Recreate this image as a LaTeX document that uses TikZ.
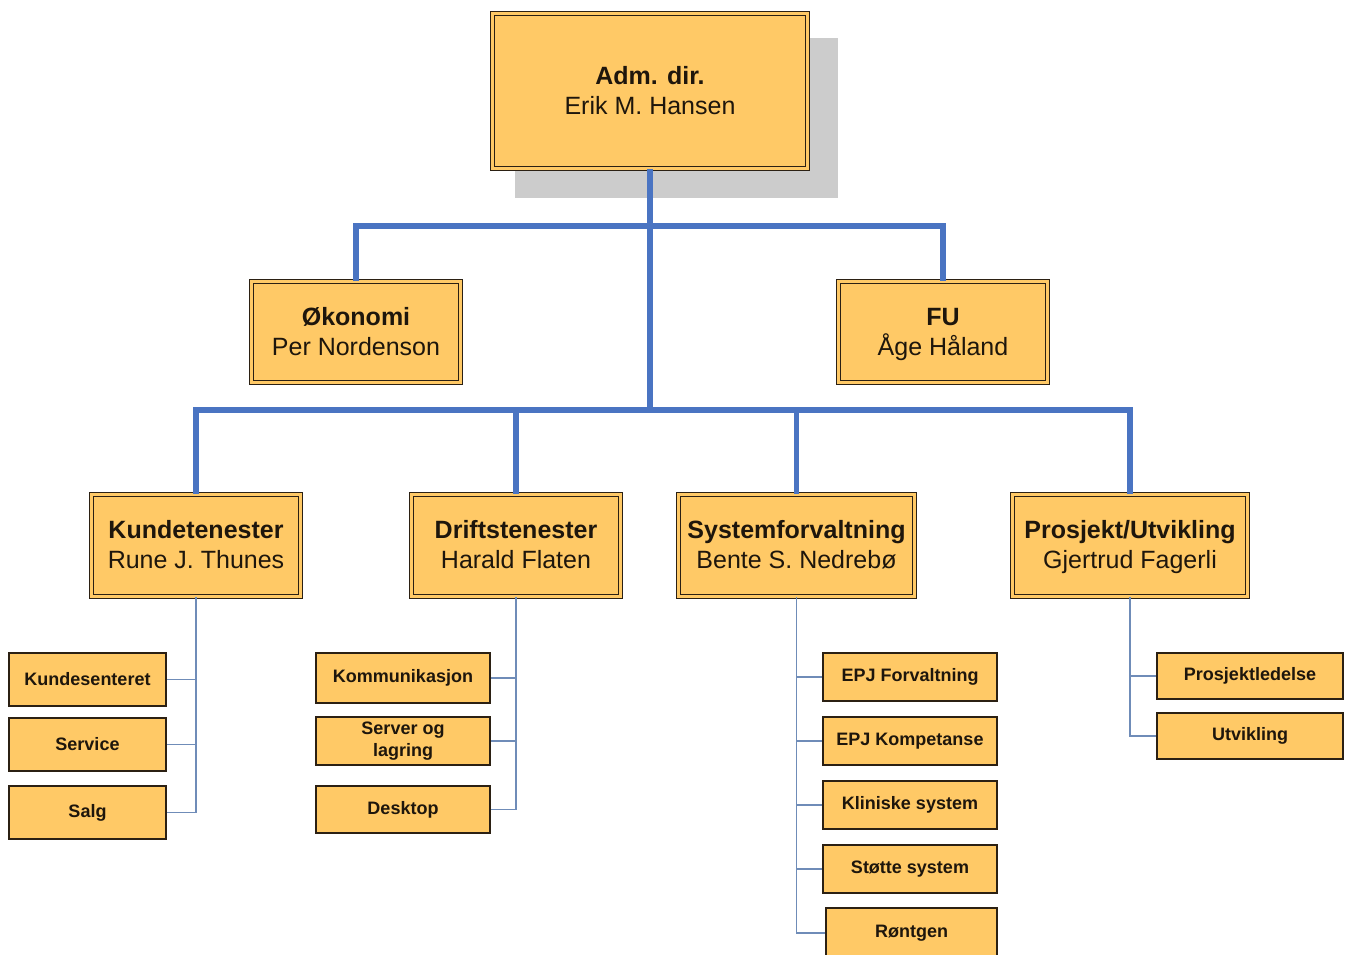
\documentclass[tikz,border=0pt]{standalone}
\usepackage{fontspec}
\setmainfont{Liberation Sans}
\definecolor{boxfill}{HTML}{FFC966}
\definecolor{boxline}{HTML}{2B2013}
\definecolor{thickblue}{HTML}{4A74C2}
\definecolor{thinblue}{HTML}{6F8CB8}
\definecolor{shadowgray}{HTML}{CCCCCC}
\definecolor{txt}{HTML}{1E160C}
\newcommand\lnfix{\vphantom{Åg}}
\tikzset{
  bigbox/.style={draw=boxline, line width=0.8pt, double=boxfill, double distance=2.4pt,
    fill=boxfill, inner sep=0pt, align=center, text=txt,
    font=\fontsize{18.75}{22.5}\selectfont},
  smallbox/.style={draw=boxline, line width=1pt, fill=boxfill, inner sep=0pt,
    align=center, text=txt, font=\fontsize{13.5}{17}\selectfont\bfseries},
  thickline/.style={draw=thickblue, line width=3.8pt},
  thinline/.style={draw=thinblue, line width=1.1pt}
}
\begin{document}
\begin{tikzpicture}[x=0.75pt,y=-0.75pt]
\useasboundingbox (0,0) rectangle (1352,954);
\clip (0,0) rectangle (1352,954);
\fill[white] (0,0) rectangle (1352,954);
% shadow
\fill[shadowgray] (515,38) rectangle (838,198);
\coordinate (j1) at (650,226);
\coordinate (j2) at (650,410);
% nodes
\node[bigbox, minimum width=236.25pt, minimum height=116.25pt] (top) at (650,91) {\lnfix\textbf{Adm. dir.}\\\lnfix Erik M. Hansen};
\node[bigbox, minimum width=156.75pt, minimum height=75.75pt] (oko) at (356,332) {\lnfix\textbf{Økonomi}\\\lnfix Per Nordenson};
\node[bigbox, minimum width=156.75pt, minimum height=75.75pt] (fu) at (943,332) {\lnfix\textbf{FU}\\\lnfix Åge Håland};
\node[bigbox, minimum width=156.75pt, minimum height=76.5pt] (kt) at (196,545.5) {\lnfix\textbf{Kundetenester}\\\lnfix Rune J. Thunes};
\node[bigbox, minimum width=156.75pt, minimum height=76.5pt] (dt) at (516,545.5) {\lnfix\textbf{Driftstenester}\\\lnfix Harald Flaten};
\node[bigbox, minimum width=177pt, minimum height=76.5pt] (sf) at (796.5,545.5) {\lnfix\textbf{Systemforvaltning}\\\lnfix Bente S. Nedrebø};
\node[bigbox, minimum width=176.25pt, minimum height=76.5pt] (pu) at (1130,545.5) {\lnfix\textbf{Prosjekt/Utvikling}\\\lnfix Gjertrud Fagerli};
% small boxes
\node[smallbox, minimum width=117.75pt, minimum height=39.75pt] (ks) at (87.5,679.5) {Kundesenteret};
\node[smallbox, minimum width=117.75pt, minimum height=39.75pt] (sv) at (87.5,744.5) {Service};
\node[smallbox, minimum width=117.75pt, minimum height=39.75pt] (sa) at (87.5,812.5) {Salg};
\node[smallbox, minimum width=130.5pt, minimum height=37.5pt] (ko) at (403,678) {Kommunikasjon};
\node[smallbox, minimum width=130.5pt, minimum height=36pt] (sl) at (403,741) {Server og\\lagring};
\node[smallbox, minimum width=130.5pt, minimum height=35.25pt] (de) at (403,809.5) {Desktop};
\node[smallbox, minimum width=130.5pt, minimum height=36pt] (ef) at (910,677) {EPJ Forvaltning};
\node[smallbox, minimum width=130.5pt, minimum height=36pt] (ek) at (910,741) {EPJ Kompetanse};
\node[smallbox, minimum width=130.5pt, minimum height=36pt] (kl) at (910,805) {Kliniske system};
\node[smallbox, minimum width=130.5pt, minimum height=36pt] (st) at (910,869) {Støtte system};
\node[smallbox, minimum width=128.25pt, minimum height=37.5pt] (ro) at (911.5,933) {Røntgen};
\node[smallbox, minimum width=139.5pt, minimum height=34.5pt] (pl) at (1250,676) {Prosjektledelse};
\node[smallbox, minimum width=139.5pt, minimum height=34.5pt] (ut) at (1250,736) {Utvikling};
% thick connectors
\draw[thickline] (top.south) -- (j2);
\draw[thickline] (oko.north) |- (j1) -| (fu.north);
\draw[thickline] (kt.north) |- (j2) -| (pu.north);
\draw[thickline] (dt.north) |- (j2);
\draw[thickline] (sf.north) |- (j2);
% thin connectors
\draw[thinline] (kt.south) |- (ks.east);
\draw[thinline] (kt.south) |- (sv.east);
\draw[thinline] (kt.south) |- (sa.east);
\draw[thinline] (dt.south) |- (ko.east);
\draw[thinline] (dt.south) |- (sl.east);
\draw[thinline] (dt.south) |- (de.east);
\draw[thinline] (sf.south) |- (ef.west);
\draw[thinline] (sf.south) |- (ek.west);
\draw[thinline] (sf.south) |- (kl.west);
\draw[thinline] (sf.south) |- (st.west);
\draw[thinline] (sf.south) |- (ro.west);
\draw[thinline] (pu.south) |- (pl.west);
\draw[thinline] (pu.south) |- (ut.west);
\end{tikzpicture}
\end{document}
